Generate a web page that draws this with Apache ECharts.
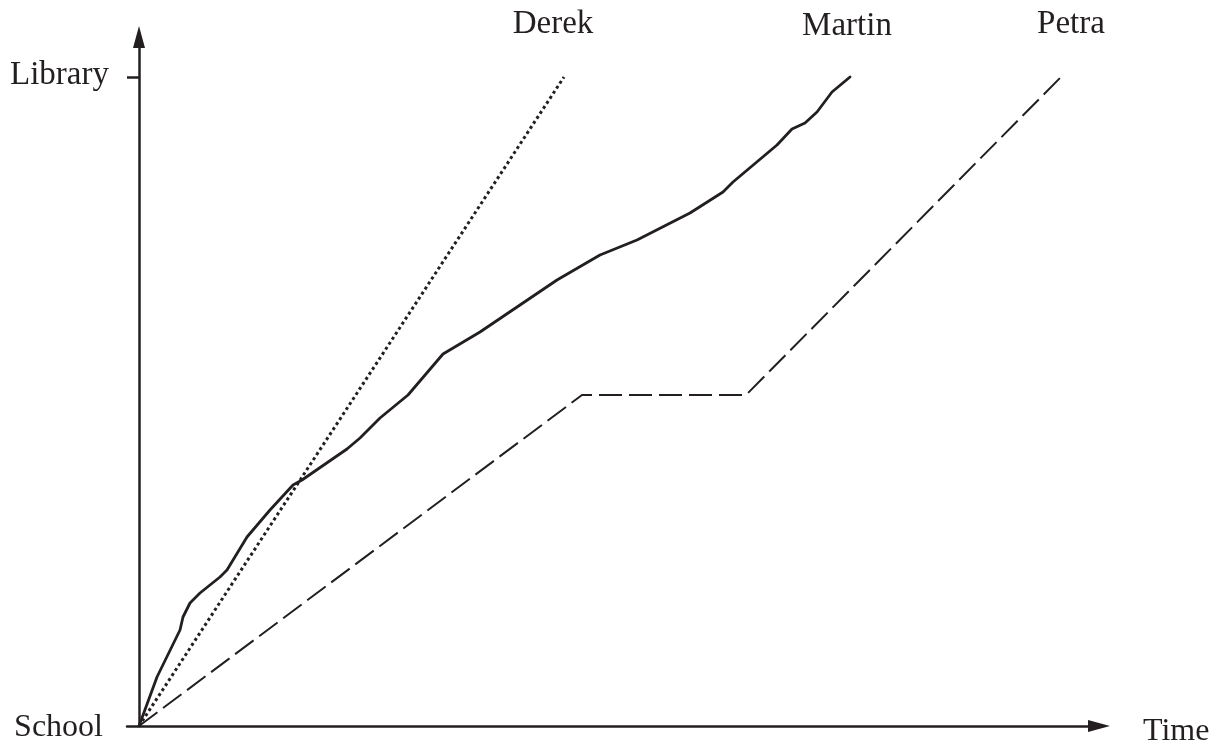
<!DOCTYPE html>
<html>
<head>
<meta charset="utf-8">
<script src="https://cdn.jsdelivr.net/npm/echarts@6/dist/echarts.min.js"></script>
<style>
  html, body { margin: 0; padding: 0; background: #ffffff; }
  #chart { width: 1222px; height: 747px; }
</style>
</head>
<body>
<div id="chart"></div>
<script>
// Data (time units and distance units; Library = 649)
const seriesNames = ['Derek', 'Martin', 'Petra'];

const derekTime = [0, 425];
const derekDist = [0, 649];

const martinTime = [0, 18, 41, 44, 51, 61, 81, 88, 108, 131, 154, 163, 208, 221, 241, 269, 304, 341, 381, 418, 461, 498, 551, 584, 594, 638, 653, 666, 678, 693, 711];
const martinDist = [0, 49, 96, 109, 123, 133, 149, 156, 189, 216, 241, 246, 277, 288, 308, 331, 372, 394, 421, 446, 471, 486, 513, 534, 544, 581, 597, 603, 614, 634, 649];

const petraTime = [0, 443, 607, 922];
const petraDist = [0, 331, 331, 649];

const yTickValues = [0, 649];
const yTickLabels = ['School', 'Library'];
const xAxisName = 'Time';

const INK = '#231f20';
const FONT = '"Liberation Serif", "Times New Roman", serif';
const FS = 33;

function buildData(xs, ys, name, offset) {
  return xs.map(function (x, i) {
    if (i === xs.length - 1) {
      return {
        value: [x, ys[i]],
        label: {
          show: true,
          formatter: name,
          position: 'inside',
          align: 'center',
          verticalAlign: 'middle',
          offset: offset,
          color: INK,
          fontFamily: FONT,
          fontSize: FS
        }
      };
    }
    return [x, ys[i]];
  });
}

const chart = echarts.init(document.getElementById('chart'), null, { renderer: 'canvas' });

const option = {
  backgroundColor: '#ffffff',
  animation: false,
  grid: { left: 127, right: 123, top: 37, bottom: 21, containLabel: false, outerBoundsMode: 'none' },
  xAxis: {
    type: 'value',
    min: -12,
    max: 960,
    name: '{t|' + xAxisName + '}',
    nameLocation: 'end',
    nameGap: 44,
    nameTextStyle: {
      color: INK, fontFamily: FONT, fontSize: 32,
      rich: { t: { color: INK, fontFamily: FONT, fontSize: 32, padding: [12, 0, 0, 0] } }
    },
    axisLine: {
      show: true,
      onZero: false,
      symbol: ['none', 'triangle'],
      symbolSize: [12, 22],
      lineStyle: { color: INK, width: 2.5 }
    },
    axisTick: { show: false },
    axisLabel: { show: false },
    splitLine: { show: false }
  },
  yAxis: {
    type: 'value',
    min: 0,
    max: 689,
    offset: -12,
    axisLine: {
      show: true,
      onZero: false,
      symbol: ['none', 'triangle'],
      symbolSize: [12, 22],
      lineStyle: { color: INK, width: 2.5 }
    },
    axisTick: {
      show: true,
      customValues: [yTickValues[1]],
      length: 12,
      lineStyle: { color: INK, width: 2.5 }
    },
    axisLabel: {
      show: true,
      customValues: yTickValues,
      margin: 30,
      formatter: function (v) {
        const i = yTickValues.indexOf(v);
        if (i < 0) return '';
        return i === 0 ? '{s|' + yTickLabels[i] + '}' : '{l|' + yTickLabels[i] + '}';
      },
      rich: {
        s: { color: INK, fontFamily: FONT, fontSize: 32, padding: [4, 6, 0, 0] },
        l: { color: INK, fontFamily: FONT, fontSize: FS, padding: [0, 0, 4, 0] }
      }
    },
    splitLine: { show: false }
  },
  series: [
    {
      name: seriesNames[0],
      type: 'line',
      data: buildData(derekTime, derekDist, seriesNames[0], [-11, -53]),
      showSymbol: true,
      symbol: 'circle',
      symbolSize: 0,
      lineStyle: { color: INK, width: 3, type: [3, 3] },
      itemStyle: { color: INK },
      z: 3
    },
    {
      name: seriesNames[1],
      type: 'line',
      data: buildData(martinTime, martinDist, seriesNames[1], [-3, -51]),
      showSymbol: true,
      symbol: 'circle',
      symbolSize: 0,
      lineStyle: { color: INK, width: 2.8, type: 'solid', join: 'round', cap: 'round' },
      itemStyle: { color: INK },
      z: 4
    },
    {
      name: seriesNames[2],
      type: 'line',
      data: buildData(petraTime, petraDist, seriesNames[2], [10, -53]),
      showSymbol: true,
      symbol: 'circle',
      symbolSize: 0,
      lineStyle: { color: INK, width: 2, type: [23, 7] },
      itemStyle: { color: INK },
      z: 3
    }
  ]
};

chart.setOption(option);
</script>
</body>
</html>
